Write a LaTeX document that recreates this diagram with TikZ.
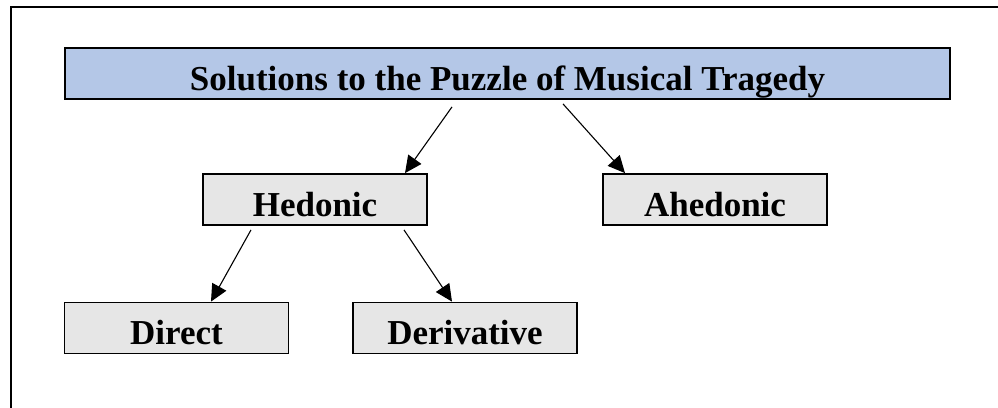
\documentclass[tikz,border=0pt]{standalone}
\usepackage{fontspec}
\setmainfont{Liberation Serif}
\usetikzlibrary{arrows.meta}
\definecolor{titleblue}{HTML}{B4C7E7}
\definecolor{boxgray}{HTML}{E6E6E6}
\begin{document}
\begin{tikzpicture}[x=1pt,y=-1pt,
  box/.style={draw=black,line width=1.8pt,fill=boxgray,minimum width=224pt,minimum height=51pt,inner sep=0pt,text height=33pt,text depth=0pt,font=\fontsize{35}{40}\selectfont\bfseries},
  titlebox/.style={box,fill=titleblue,minimum width=885pt},
  conn/.style={line width=1.1pt,-{Triangle[length=17pt,width=16pt]}}]
\useasboundingbox (0,0) rectangle (998,407);
\draw[line width=1.8pt] (1010,7) -- (11,7) -- (11,420);
\node[titlebox] (title) at (507.5,73.5) {Solutions to the Puzzle of Musical Tragedy};
\node[box] (hed) at (315,199.5) {Hedonic};
\node[box] (ahed) at (715,199.5) {Ahedonic};
\node[box] (dir) at (176.5,328) {Direct};
\node[box] (der) at (465,328) {Derivative};
\draw[conn] ([shift={(-55.5,7)}]title.south) -- ([xshift=90pt]hed.north);
\draw[conn] ([shift={(55.5,4)}]title.south) -- ([xshift=-90pt]ahed.north);
\draw[conn] ([shift={(-64,4)}]hed.south) -- ([xshift=34.5pt]dir.north);
\draw[conn] ([shift={(89,4)}]hed.south) -- ([xshift=-13pt]der.north);
\end{tikzpicture}
\end{document}
